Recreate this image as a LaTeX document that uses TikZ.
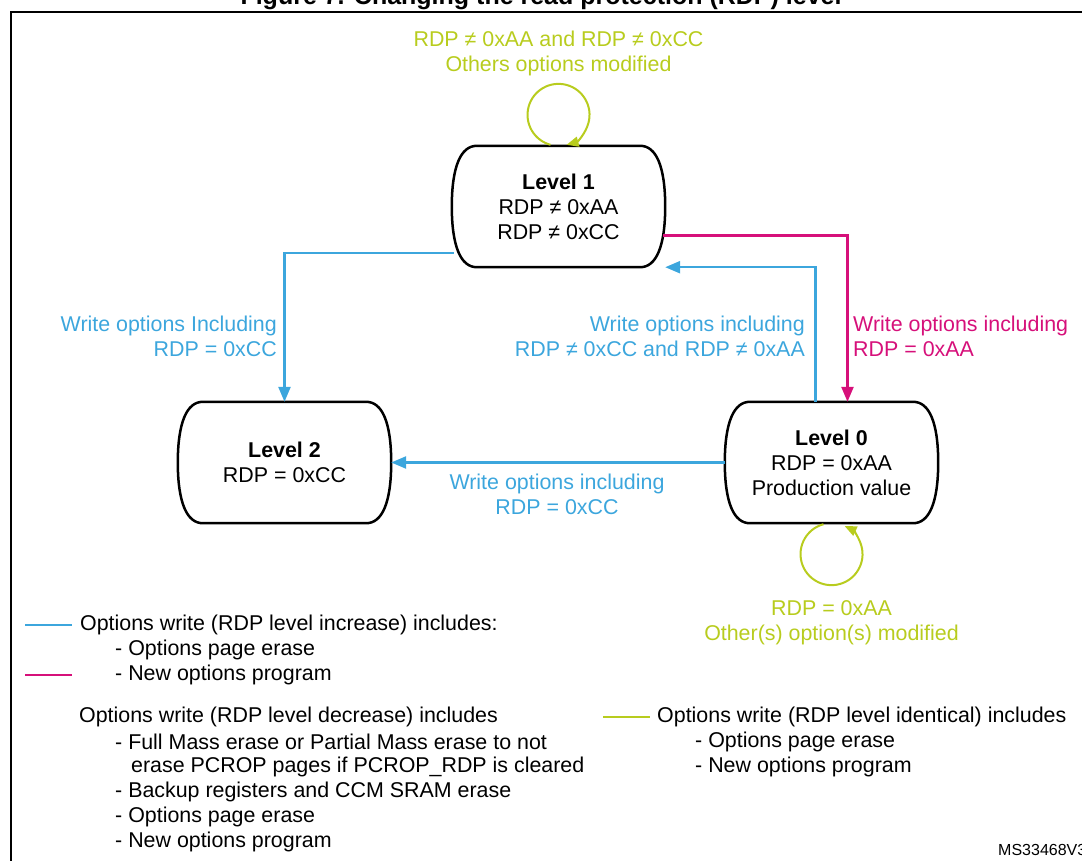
\documentclass[tikz,border=0pt]{standalone}
\usepackage{fontspec}
\setmainfont{Liberation Sans}
\usetikzlibrary{arrows.meta,calc}
\definecolor{stblue}{RGB}{60,166,221}
\definecolor{stmag}{RGB}{214,16,122}
\definecolor{stlime}{RGB}{184,204,30}
\begin{document}
\begin{tikzpicture}[x=1pt,y=-1pt,
  txt/.style={font=\fontsize{21.4}{25}\selectfont, inner sep=0pt},
  state/.style={txt, minimum width=213pt, minimum height=121pt, align=center},
  outline/.style={line width=2.5pt, black},
  bl/.style={stblue, line width=2.4pt, -{Triangle[length=15pt,width=12pt]}},
  mg/.style={stmag, line width=2.4pt, -{Triangle[length=15pt,width=12pt]}},
  lp/.style={stlime, line width=2pt, -{Triangle[length=12pt,width=10pt]}},
  legline/.style={line width=2.4pt},
]
\useasboundingbox (0,0) rectangle (1082,860);
% title (mostly cut by the page edge)
\node[font=\fontsize{25}{29}\selectfont\bfseries, anchor=base, inner sep=0pt] (title) at (541,4) {Figure 7. Changing the read protection (RDP) level};
% frame
\draw[line width=2.2pt] (11,12) rectangle (1100,880);

% states
\node[state] (L1) at (558.5,206.5) {\textbf{Level 1}\\RDP ≠ 0xAA\\RDP ≠ 0xCC};
\node[state] (L2) at (284.5,462.5) {\textbf{Level 2}\\RDP = 0xCC};
\node[state] (L0) at (831.5,462.5) {\textbf{Level 0}\\RDP = 0xAA\\Production value};
\foreach \n in {L1,L2,L0}{
  \draw[outline] ($(\n.north west)+(25,0)$) -- ($(\n.north east)+(-25,0)$)
    .. controls ($(\n.north east)+(-9,0)$) and ($(\n.east)+(0,-40)$) .. (\n.east)
    .. controls ($(\n.east)+(0,40)$) and ($(\n.south east)+(-9,0)$) .. ($(\n.south east)+(-25,0)$)
    -- ($(\n.south west)+(25,0)$)
    .. controls ($(\n.south west)+(9,0)$) and ($(\n.west)+(0,40)$) .. (\n.west)
    .. controls ($(\n.west)+(0,-40)$) and ($(\n.north west)+(9,0)$) .. cycle;
}

% connectors
\draw[bl] ($(L1.south west)+(2,-14)$) -| (L2.north);
\draw[bl] (L0.west) -- (L2.east);
\draw[bl] ($(L0.north)+(-16,0)$) |- (L1.south east);
\draw[mg] ($(L1.east)+(-2,29)$) -| ($(L0.north)+(16,0)$);

% self loops
\draw[lp] ($(L1.north)+(-8,-1)$) arc[start angle=105, end angle=435, radius=31];
\draw[lp] ($(L0.south)+(-8,1)$) arc[start angle=255, end angle=-65, radius=31];

% labels
\node[txt, stlime, align=center] (lab1) at (558.5,53.5) {RDP ≠ 0xAA and RDP ≠ 0xCC\\Others options modified};
\node[txt, stblue, align=right, anchor=east] (lab2) at (277,336.5) {Write options Including\\RDP = 0xCC};
\node[txt, stblue, align=right, anchor=east] (lab3) at (805,336.5) {Write options including\\RDP ≠ 0xCC and RDP ≠ 0xAA};
\node[txt, stmag, align=left, anchor=west] (lab4) at (853,336.5) {Write options including\\RDP = 0xAA};
\node[txt, stblue, align=center] (lab5) at (557,494.5) {Write options including\\RDP = 0xCC};
\node[txt, stlime, align=center] (lab6) at (831.5,622.5) {RDP = 0xAA\\Other(s) option(s) modified};

% legend
\node[txt, anchor=west] (g1) at (80,625) {Options write (RDP level increase) includes:};
\node[txt, anchor=west] (g2) at (115,650) {- Options page erase};
\node[txt, anchor=west] (g3) at (115,675) {- New options program};
\draw[legline, stblue] (25,625) -- (72,625);
\draw[legline, stmag] (25,675) -- (72,675);

\node[txt, anchor=west] (h1) at (79,717) {Options write (RDP level decrease) includes};
\node[txt, anchor=west] (h2) at (115,742) {- Full Mass erase or Partial Mass erase to not};
\node[txt, anchor=west] (h3) at (131,767) {erase PCROP pages if PCROP\_RDP is cleared};
\node[txt, anchor=west] (h4) at (115,792) {- Backup registers and CCM SRAM erase};
\node[txt, anchor=west] (h5) at (115,817) {- Options page erase};
\node[txt, anchor=west] (h6) at (115,842) {- New options program};

\draw[legline, stlime] (603,717) -- (650,717);
\node[txt, anchor=west] (k1) at (657,717) {Options write (RDP level identical) includes};
\node[txt, anchor=west] (k2) at (695,742) {- Options page erase};
\node[txt, anchor=west] (k3) at (695,767) {- New options program};

\node[font=\fontsize{16}{19}\selectfont, anchor=west, inner sep=0pt] (ms) at (998,850) {MS33468V3};
\end{tikzpicture}
\end{document}
